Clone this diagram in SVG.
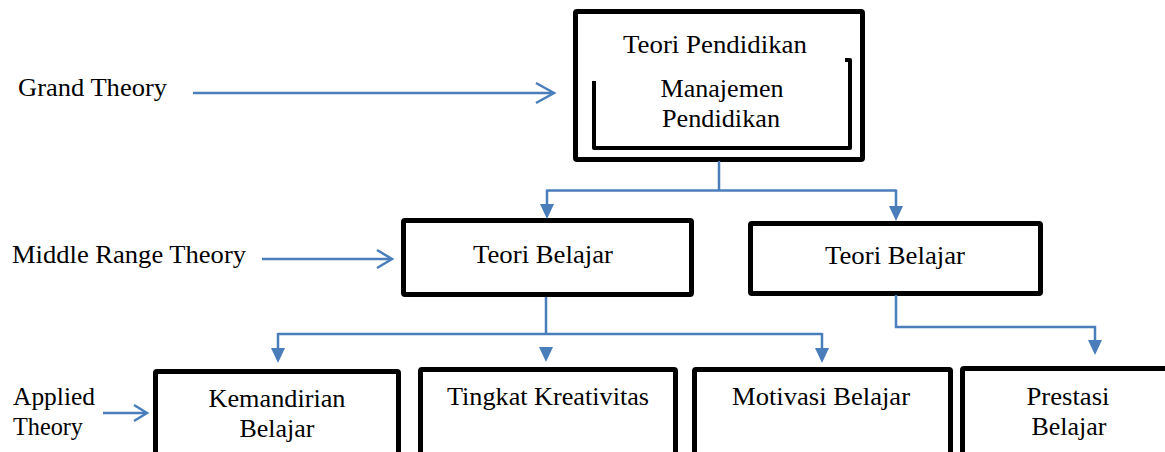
<svg xmlns="http://www.w3.org/2000/svg" width="1165" height="452" viewBox="0 0 1165 452">
<defs>
<style>
text{font-family:"Liberation Serif","Times New Roman",serif;font-size:25px;fill:#000}
.c{text-anchor:middle}
.box{fill:#fff;stroke:#000;stroke-width:5;stroke-linejoin:round}
.inner{fill:none;stroke:#000;stroke-width:4;stroke-linejoin:round}
.con{fill:none;stroke:#4A7EBB;stroke-width:2.5}
.head{fill:#4A7EBB;stroke:none}
.chev{fill:none;stroke:#4A7EBB;stroke-width:2.5;stroke-linejoin:miter}
</style>
</defs>
<rect width="1165" height="452" fill="#fff"/>
<g id="labels">
<text x="18" y="96" textLength="149" lengthAdjust="spacingAndGlyphs">Grand Theory</text>
<text x="12" y="263" textLength="234" lengthAdjust="spacingAndGlyphs">Middle Range Theory</text>
<text x="13" y="405" textLength="82" lengthAdjust="spacingAndGlyphs">Applied</text>
<text x="13" y="435" textLength="70" lengthAdjust="spacingAndGlyphs">Theory</text>
</g>
<g id="node-grand">
<rect class="box" x="575.5" y="11.5" width="287" height="148" rx="1.5"/>
<path class="inner" d="M845 60 H850 V148 H594 V81"/>
<text class="c" x="715" y="53" textLength="184" lengthAdjust="spacingAndGlyphs">Teori Pendidikan</text>
<text class="c" x="722" y="97" textLength="123" lengthAdjust="spacingAndGlyphs">Manajemen</text>
<text class="c" x="721" y="127" textLength="118" lengthAdjust="spacingAndGlyphs">Pendidikan</text>
</g>
<g id="node-middle-1">
<rect class="box" x="403.5" y="220.5" width="288" height="74" rx="1.5"/>
<text class="c" x="543" y="263" textLength="140" lengthAdjust="spacingAndGlyphs">Teori Belajar</text>
</g>
<g id="node-middle-2">
<rect class="box" x="750.5" y="223.5" width="290" height="70" rx="1.5"/>
<text class="c" x="895" y="264" textLength="140" lengthAdjust="spacingAndGlyphs">Teori Belajar</text>
</g>
<g id="node-kemandirian">
<rect class="box" x="155.5" y="371.5" width="243" height="110" rx="1.5"/>
<text class="c" x="277" y="407" textLength="137" lengthAdjust="spacingAndGlyphs">Kemandirian</text>
<text class="c" x="277" y="437" textLength="75" lengthAdjust="spacingAndGlyphs">Belajar</text>
</g>
<g id="node-kreativitas">
<rect class="box" x="420.5" y="369.5" width="255" height="110" rx="1.5"/>
<text class="c" x="548" y="405" textLength="202" lengthAdjust="spacingAndGlyphs">Tingkat Kreativitas</text>
</g>
<g id="node-motivasi">
<rect class="box" x="694.5" y="369.5" width="256" height="110" rx="1.5"/>
<text class="c" x="821" y="405" textLength="178" lengthAdjust="spacingAndGlyphs">Motivasi Belajar</text>
</g>
<g id="node-prestasi">
<rect class="box" x="962.5" y="368.5" width="220" height="110" rx="1.5"/>
<text class="c" x="1068" y="405" textLength="83" lengthAdjust="spacingAndGlyphs">Prestasi</text>
<text class="c" x="1069" y="435" textLength="75" lengthAdjust="spacingAndGlyphs">Belajar</text>
</g>
<g id="connectors">
<path class="con" d="M193 93 H553"/>
<path class="chev" d="M536 83 L554 93 L536 103"/>
<path class="con" d="M262 259 H391"/>
<path class="chev" d="M377 250 L392 259 L377 268"/>
<path class="con" d="M103 413 H146"/>
<path class="chev" d="M134 405 L147 413 L134 421"/>
<path class="con" d="M719 161 V190.5 M547 190.5 H896 M547 189.5 V206 M896 189.5 V207"/>
<path class="head" d="M540 204 H554 L547 219 Z"/>
<path class="head" d="M889 206 H903 L896 221 Z"/>
<path class="con" d="M546 297 V334 M278 334 H822 M278 333 V350 M822 333 V350"/>
<path class="head" d="M271 348 H285 L278 363 Z"/>
<path class="head" d="M539 347 H553 L546 362 Z"/>
<path class="head" d="M815 348 H829 L822 363 Z"/>
<path class="con" d="M896 295 V327 H1095 V342"/>
<path class="head" d="M1088 340 H1102 L1095 355 Z"/>
</g>
</svg>
